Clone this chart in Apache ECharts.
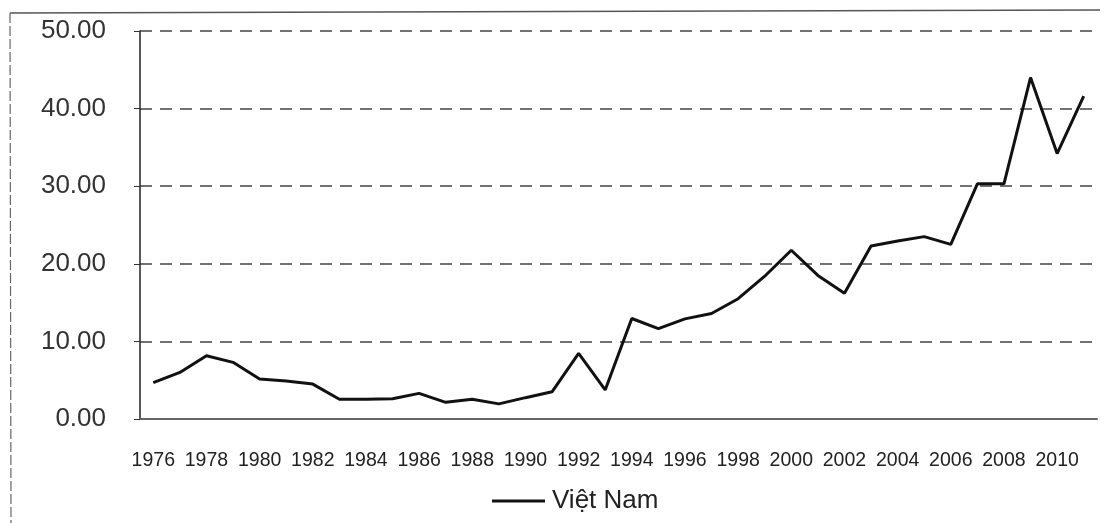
<!DOCTYPE html>
<html>
<head>
<meta charset="utf-8">
<script src="https://cdn.jsdelivr.net/npm/echarts@6/dist/echarts.min.js"></script>
<style>
  html, body { margin: 0; padding: 0; background: #fff; }
  #chart { width: 1116px; height: 523px; }
</style>
</head>
<body>
<div id="chart"></div>
<script>
// năm
const years = ['1976','1977','1978','1979','1980','1981','1982','1983','1984','1985',
  '1986','1987','1988','1989','1990','1991','1992','1993','1994','1995',
  '1996','1997','1998','1999','2000','2001','2002','2003','2004','2005',
  '2006','2007','2008','2009','2010','2011']
// Việt Nam
const vietNam = [4.7, 6.0, 8.15, 7.3, 5.15, 4.9, 4.5, 2.55, 2.55, 2.6,
  3.3, 2.15, 2.55, 1.95, 2.75, 3.5, 8.45, 3.75, 12.95, 11.65,
  12.9, 13.6, 15.5, 18.4, 21.75, 18.5, 16.2, 22.3, 22.95, 23.5,
  22.5, 30.3, 30.3, 44.0, 34.2, 41.6]
const yTicks = [0, 10, 20, 30, 40, 50]

const chart = echarts.init(document.getElementById('chart'))
chart.setOption({
  animation: false,
  textStyle: { fontFamily: 'Liberation Sans' },
  grid: { left: 140, right: 19, top: 31, bottom: 104 },
  graphic: [
    { type: 'line', shape: { x1: 10, y1: 13, x2: 1100, y2: 10 }, style: { stroke: '#555', lineWidth: 1.5 } },
    { type: 'line', shape: { x1: 10, y1: 13, x2: 11, y2: 523 }, style: { stroke: '#666', lineWidth: 1.2, lineDash: [10, 3] } }
  ],
  legend: {
    left: 487,
    top: 483,
    icon: 'rect',
    itemWidth: 53,
    itemHeight: 3,
    textStyle: { fontSize: 26, color: '#222', padding: [0, 0, 0, 2] },
    data: ['Việt Nam']
  },
  xAxis: {
    type: 'category',
    data: years,
    boundaryGap: true,
    axisLine: { lineStyle: { color: '#666', width: 2 } },
    axisTick: { interval: 0, length: 5, lineStyle: { color: '#444' } },
    axisLabel: { interval: 1, color: '#222', fontSize: 19.5, margin: 32 },
    splitLine: { show: false }
  },
  yAxis: {
    type: 'value',
    min: yTicks[0],
    max: yTicks[yTicks.length - 1],
    interval: 10,
    axisLine: { show: true, lineStyle: { color: '#222', width: 1.5 } },
    axisTick: { show: true, length: 6, lineStyle: { color: '#333' } },
    axisLabel: { color: '#333', fontSize: 26, margin: 34, padding: [4, 0, 0, 0], formatter: v => v.toFixed(2) },
    splitLine: { lineStyle: { type: [12, 8], color: '#444', width: 1.5 } }
  },
  series: [{
    name: 'Việt Nam',
    type: 'line',
    data: vietNam,
    symbol: 'none',
    color: '#111',
    lineStyle: { width: 3, color: '#111' }
  }]
})
</script>
</body>
</html>
